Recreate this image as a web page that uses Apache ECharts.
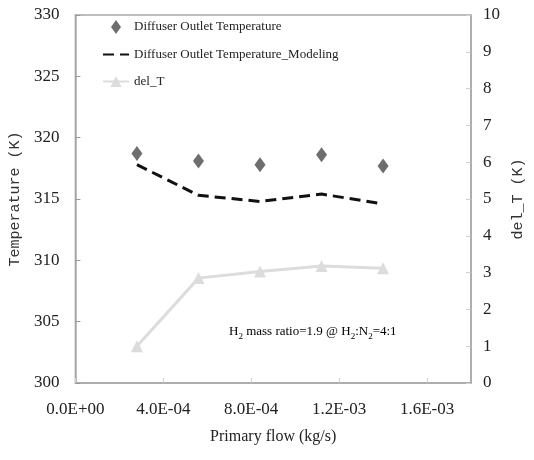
<!DOCTYPE html>
<html>
<head>
<meta charset="utf-8">
<script src="https://cdn.jsdelivr.net/npm/echarts@6/dist/echarts.min.js"></script>
<style>
  html, body { margin: 0; padding: 0; background: #fff; }
  #chart { width: 534px; height: 460px; }
</style>
</head>
<body>
<div id="chart"></div>
<script>
// primary flow (kg/s)
var flow = [2.8e-4, 5.6e-4, 8.4e-4, 1.12e-3, 1.4e-3];
// measured outlet temperature (K)
var tempMeasured = [318.7, 318.1, 317.8, 318.6, 317.7];
// modeled outlet temperature (K)
var tempModel = [317.8, 315.3, 314.8, 315.4, 314.6];
// del_T (K), right axis
var delT = [1.0, 2.85, 3.03, 3.18, 3.12];

function pairs(xs, ys) {
  return xs.map(function (x, i) { return [x, ys[i]]; });
}

// 4e-4 -> "4.0E-04"
function sci(v) {
  if (v === 0) return "0.0E+00";
  var s = v.toExponential(1).toUpperCase();
  var parts = s.split("E");
  var e = parseInt(parts[1], 10);
  var sign = e < 0 ? "-" : "+";
  var ae = Math.abs(e);
  return parts[0] + "E" + sign + (ae < 10 ? "0" + ae : ae);
}

var serif = "Liberation Serif";
var axisGray = "#a8a8a8";

var chart = echarts.init(document.getElementById("chart"));
var option = {
  animation: false,
  backgroundColor: "#fff",
  grid: {
    left: 69,
    right: 48,
    top: 15,
    bottom: 77,
    show: true,
    borderColor: axisGray,
    borderWidth: 1.5,
  },
  legend: {
    orient: "vertical",
    left: 97,
    top: 15,
    itemGap: 14,
    itemWidth: 26,
    itemHeight: 14,
    textStyle: { fontFamily: serif, fontSize: 13, color: "#222" },
    data: [
      { name: "Diffuser Outlet Temperature", icon: "path://M5,0L10,7L5,14L0,7Z" },
      { name: "Diffuser Outlet Temperature_Modeling", itemStyle: { opacity: 0 } },
      { name: "del_T" },
    ],
  },
  xAxis: {
    type: "value",
    min: 0,
    max: 1.8e-3,
    interval: 4e-4,
    name: "Primary flow (kg/s)",
    nameLocation: "middle",
    nameGap: 46,
    nameTextStyle: { fontFamily: serif, fontSize: 16, color: "#222" },
    axisLine: { lineStyle: { color: axisGray, width: 1.5 } },
    axisTick: { inside: true, length: 5, lineStyle: { color: "#cfcfcf" } },
    splitLine: { show: false },
    axisLabel: {
      showMaxLabel: false,
      margin: 18,
      fontFamily: serif,
      fontSize: 17,
      color: "#222",
      formatter: sci,
    },
  },
  yAxis: [
    {
      type: "value",
      min: 300,
      max: 330,
      interval: 5,
      name: "Temperature (K)",
      nameLocation: "middle",
      nameGap: 51,
      nameTextStyle: { fontFamily: "Liberation Mono", fontSize: 15, color: "#333" },
      axisLine: { show: true, lineStyle: { color: axisGray, width: 1.5 } },
      axisTick: { show: true, inside: true, length: 5, lineStyle: { color: "#999" } },
      splitLine: { show: false },
      axisLabel: { margin: 16, fontFamily: serif, fontSize: 17, color: "#222" },
    },
    {
      type: "value",
      min: 0,
      max: 10,
      interval: 1,
      position: "right",
      name: "del_T (K)",
      nameLocation: "middle",
      nameGap: 40,
      nameTextStyle: { fontFamily: "Liberation Mono", fontSize: 15, color: "#333" },
      axisLine: { show: true, lineStyle: { color: axisGray, width: 1.5 } },
      axisTick: { show: true, inside: true, length: 5, lineStyle: { color: "#cfcfcf" } },
      splitLine: { show: false },
      axisLabel: { margin: 12, fontFamily: serif, fontSize: 17, color: "#222" },
    },
  ],
  graphic: [
    {
      type: "text",
      left: 229,
      top: 325,
      style: {
        text: "{n|H}{s|2}{n| mass ratio=1.9 @ H}{s|2}{n|:N}{s|2}{n|=4:1}",
        rich: {
          n: { fontFamily: serif, fontSize: 13, color: "#222", lineHeight: 14 },
          s: { fontFamily: serif, fontSize: 9, color: "#222", lineHeight: 20, verticalAlign: "bottom" },
        },
      },
    },
  ],
  series: [
    {
      name: "Diffuser Outlet Temperature",
      type: "scatter",
      yAxisIndex: 0,
      symbol: "diamond",
      symbolSize: [11, 15],
      itemStyle: { color: "#4a4a4a" },
      data: pairs(flow, tempMeasured),
    },
    {
      name: "Diffuser Outlet Temperature_Modeling",
      type: "line",
      yAxisIndex: 0,
      symbol: "none",
      lineStyle: { color: "#111", width: 3, type: [11, 6] },
      itemStyle: { color: "#111" },
      data: pairs(flow, tempModel),
    },
    {
      name: "del_T",
      type: "line",
      yAxisIndex: 1,
      symbol: "triangle",
      symbolSize: 12,
      lineStyle: { color: "#dcdcdc", width: 3 },
      itemStyle: { color: "#dcdcdc" },
      data: pairs(flow, delT),
    },
  ],
};
chart.setOption(option);
</script>
</body>
</html>
